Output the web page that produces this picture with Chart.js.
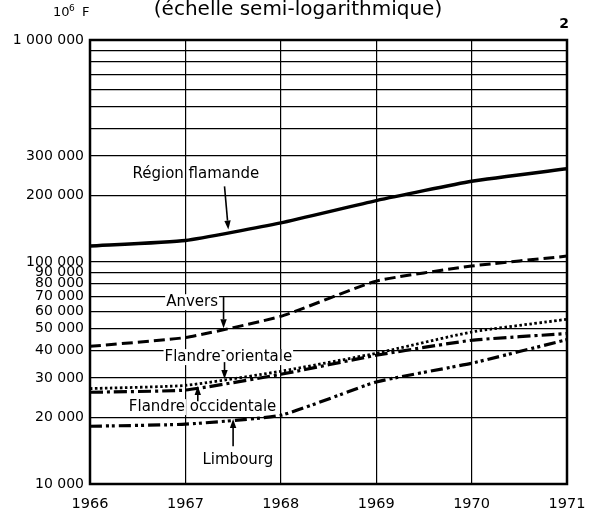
<!DOCTYPE html>
<html lang="fr">
<head>
<meta charset="utf-8">
<title>Région flamande (échelle semi-logarithmique)</title>
<script src="https://cdn.jsdelivr.net/npm/chart.js@4.4.1/dist/chart.umd.min.js"></script>
<style>
  html, body { margin: 0; padding: 0; background: #fff; }
  #wrap { width: 595px; height: 516px; }
</style>
</head>
<body>
<div id="wrap"><canvas id="chart" width="595" height="516"></canvas></div>
<script>
// =========================
// Data (10^6 F, log scale)
// =========================
const years = [1966, 1967, 1968, 1969, 1970, 1971];

const regionFlamande     = [118000, 125000, 150000, 189000, 231000, 263000];
const anvers             = [41700, 45700, 56900, 82000, 95900, 106300];
const flandreOrientale   = [26900, 27800, 32200, 38800, 48400, 55200];
const flandreOccidentale = [25900, 26500, 31200, 38000, 44400, 47600];
const limbourg           = [18200, 18600, 20400, 28800, 35000, 44700];

// grid lines and the ones that carry a label
const yGridValues = [10000, 20000, 30000, 40000, 50000, 60000, 70000, 80000, 90000,
                     100000, 200000, 300000, 400000, 500000, 600000, 700000, 800000, 900000, 1000000];
const yLabelValues = [10000, 20000, 30000, 40000, 50000, 60000, 70000, 80000, 90000,
                      100000, 200000, 300000, 1000000];

// =========================
// Callouts (placed in data space: year / value)
// =========================
const callouts = [
  { text: "Région flamande",     x: 1967.11, y: 248000, arrow: { x1: 1967.41, y1: 219000, x2: 1967.45, y2: 140000 } },
  { text: "Anvers",              x: 1967.07, y: 65900,  arrow: { x1: 1967.40, y1: 69500,  x2: 1967.40, y2: 50300 } },
  { text: "Flandre orientale",   x: 1967.45, y: 37300,  arrow: { x1: 1967.41, y1: 35400,  x2: 1967.41, y2: 29700 } },
  { text: "Flandre occidentale", x: 1967.18, y: 22200,  arrow: { x1: 1967.13, y1: 23600,  x2: 1967.13, y2: 27600 } },
  { text: "Limbourg",            x: 1967.55, y: 12800,  arrow: { x1: 1967.50, y1: 14800,  x2: 1967.50, y2: 19600 } }
];

// =========================
// Helpers
// =========================
function fmt(v) {
  return String(v).replace(/\B(?=(\d{3})+(?!\d))/g, " ");
}

function toPoints(values) {
  return years.map((yr, i) => ({ x: yr, y: values[i] }));
}

function drawArrow(ctx, x1, y1, x2, y2) {
  const ang = Math.atan2(y2 - y1, x2 - x1);
  const len = 9, half = 3.2;
  const bx = x2 - Math.cos(ang) * len, by = y2 - Math.sin(ang) * len;
  ctx.beginPath();
  ctx.moveTo(x1, y1);
  ctx.lineTo(bx, by);
  ctx.stroke();
  ctx.beginPath();
  ctx.moveTo(x2, y2);
  ctx.lineTo(bx + Math.sin(ang) * half, by - Math.cos(ang) * half);
  ctx.lineTo(bx - Math.sin(ang) * half, by + Math.cos(ang) * half);
  ctx.closePath();
  ctx.fill();
}

const frame = {
  id: "frame",
  beforeDatasetsDraw(chart) {
    const { ctx, chartArea: a, scales } = chart;
    ctx.save();

    // callout labels, each word on its own white patch
    ctx.font = "15px 'DejaVu Sans'";
    ctx.textBaseline = "middle";
    ctx.textAlign = "left";
    callouts.forEach(c => {
      const cx = scales.x.getPixelForValue(c.x);
      const cy = scales.y.getPixelForValue(c.y);
      const total = ctx.measureText(c.text).width;
      let x = cx - total / 2;
      const space = ctx.measureText(" ").width;
      c.text.split(" ").forEach(w => {
        const ww = ctx.measureText(w).width;
        ctx.fillStyle = "#fff";
        ctx.fillRect(x - 1, cy - 8, ww + 2, 16);
        ctx.fillStyle = "#000";
        ctx.fillText(w, x, cy);
        x += ww + space;
      });
      ctx.strokeStyle = "#000";
      ctx.fillStyle = "#000";
      ctx.lineWidth = 1.6;
      drawArrow(ctx,
        scales.x.getPixelForValue(c.arrow.x1), scales.y.getPixelForValue(c.arrow.y1),
        scales.x.getPixelForValue(c.arrow.x2), scales.y.getPixelForValue(c.arrow.y2));
    });

    // plot frame
    ctx.strokeStyle = "#000";
    ctx.lineWidth = 2.5;
    ctx.strokeRect(a.left, a.top, a.right - a.left, a.bottom - a.top);
    ctx.restore();
  },
  afterDraw(chart) {
    const { ctx, chartArea: a } = chart;
    ctx.save();
    ctx.fillStyle = "#000";
    ctx.textBaseline = "alphabetic";

    ctx.font = "20px 'DejaVu Sans'";
    ctx.textAlign = "center";
    ctx.fillText("(échelle semi-logarithmique)", 298, 15);

    // unit: 10^6 F
    ctx.textAlign = "left";
    ctx.font = "13px 'DejaVu Sans'";
    ctx.fillText("10", 53, 16);
    ctx.font = "9px 'DejaVu Sans'";
    ctx.fillText("6", 69, 11);
    ctx.font = "13px 'DejaVu Sans'";
    ctx.fillText("F", 82, 16);

    ctx.font = "bold 14px 'DejaVu Sans'";
    ctx.textAlign = "right";
    ctx.fillText("2", a.right + 2, 28);
    ctx.restore();
  }
};

// =========================
// Chart
// =========================
const ctx = document.getElementById("chart").getContext("2d");

new Chart(ctx, {
  type: "line",
  data: {
    datasets: [
      { label: "Région flamande", data: toPoints(regionFlamande), borderWidth: 3.4 },
      { label: "Anvers", data: toPoints(anvers), borderWidth: 3, borderDash: [11, 5] },
      { label: "Flandre orientale", data: toPoints(flandreOrientale), borderWidth: 2.8, borderDash: [2.5, 2.5] },
      { label: "Flandre occidentale", data: toPoints(flandreOccidentale), borderWidth: 3.2, borderDash: [13, 4, 3, 4] },
      { label: "Limbourg", data: toPoints(limbourg), borderWidth: 3.2, borderDash: [12, 4, 3, 3, 3, 4] }
    ]
  },
  options: {
    responsive: false,
    animation: false,
    devicePixelRatio: 1,
    layout: { padding: { top: 40, right: 28, left: 0, bottom: 0 } },
    plugins: {
      legend: { display: false },
      tooltip: { enabled: false }
    },
    elements: {
      point: { radius: 0 },
      line: { borderColor: "#000", fill: false, tension: 0.15, borderCapStyle: "butt" }
    },
    scales: {
      x: {
        type: "linear",
        min: 1966,
        max: 1971,
        afterFit(s) {
          s.height = 32;
          s.paddingLeft = 0;
          s.paddingRight = 0;
        },
        ticks: {
          stepSize: 1,
          autoSkip: false,
          maxRotation: 0,
          padding: 12,
          color: "#000",
          font: { family: "DejaVu Sans", size: 14.5 },
          callback: v => String(v)
        },
        grid: { color: "#000", lineWidth: 1.2, drawTicks: false },
        border: { display: false }
      },
      y: {
        type: "logarithmic",
        min: 10000,
        max: 1000000,
        afterFit(s) { s.width = 90; },
        afterBuildTicks(s) { s.ticks = yGridValues.map(v => ({ value: v })); },
        ticks: {
          autoSkip: false,
          padding: 6,
          color: "#000",
          font: { family: "DejaVu Sans", size: 14 },
          callback: v => yLabelValues.includes(v) ? fmt(v) : ""
        },
        grid: { color: "#000", lineWidth: 1.2, drawTicks: false },
        border: { display: false }
      }
    }
  },
  plugins: [frame]
});
</script>
</body>
</html>
